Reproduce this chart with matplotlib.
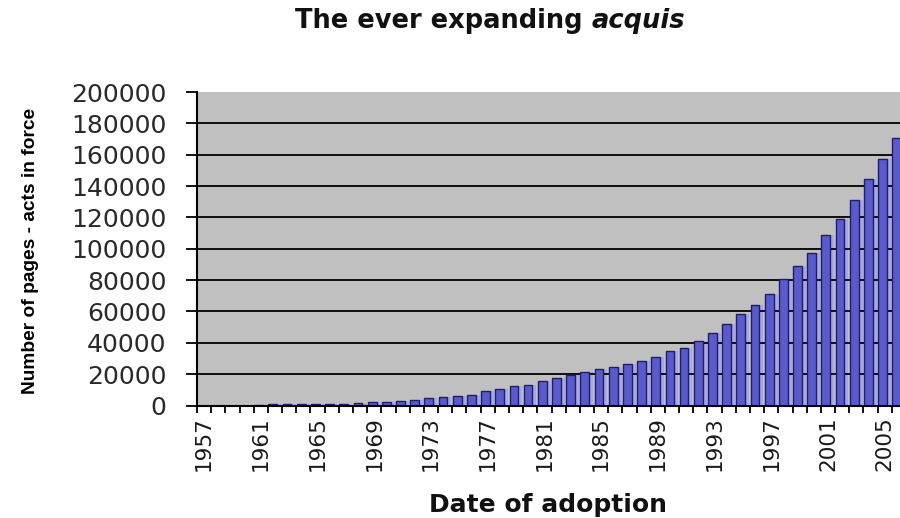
import numpy as np
import matplotlib
matplotlib.use("Agg")
from matplotlib import pyplot as plt

# pages of acts in force, by year of adoption
years = list(range(1957, 2007))
pages = [0, 0, 0, 0, 200, 700, 800, 900, 1000, 1100,
         1200, 1800, 2000, 2400, 2600, 3700, 4700, 5200, 6100, 7000,
         9500, 10500, 12200, 13200, 15800, 17400, 19300, 21500, 23400, 24700,
         26600, 28500, 30900, 34700, 37000, 41100, 46400, 51700, 58100, 64300,
         71300, 80400, 89000, 97400, 108500, 119100, 131300, 144300, 157000, 170600]
yticks = list(range(0, 200001, 20000))

W, H = 900, 518
fig = plt.figure(figsize=(W / 100, H / 100), dpi=100)
# the original picture is cut off on the right, so the axes run past the edge
step = 14.18
ax = fig.add_axes([197 / W, (H - 405.5) / H, len(years) * step / W, 313.5 / H])
ax.set_facecolor('#c0c0c0')

x = np.arange(len(years))
# light "shadow" strip on the right of each bar, then the bar itself
ax.bar(x - 0.5 + 0.66, pages, width=0.28, align='edge', color='#a6a6ec',
       linewidth=0, zorder=1)
ax.bar(x - 0.5 + 0.04, pages, width=0.62, align='edge', color='#5a5acc',
       edgecolor='#1e1e62', linewidth=1, zorder=2)

ax.set_xlim(-0.5, len(years) - 0.5)
ax.set_ylim(0, 200000)
ax.set_yticks(yticks)
ax.set_yticklabels([str(v) for v in yticks])
ax.set_xticks(x[::4])
ax.set_xticklabels([str(y) for y in years[::4]], rotation=90)
ax.set_xticks(np.arange(len(years) + 1) - 0.5, minor=True)

ax.tick_params(axis='x', which='major', length=0, pad=8, labelsize=15.5,
               labelcolor='#1a1a1a')
ax.tick_params(axis='x', which='minor', length=5, width=1.3, color='black')
ax.tick_params(axis='y', length=8, width=1.3, pad=14, labelsize=18,
               labelcolor='#2a2a2a')

ax.set_axisbelow('line')
ax.yaxis.grid(True, color='black', linewidth=1.3)
ax.get_ygridlines()[-1].set_visible(False)
for s in ['top', 'right']:
    ax.spines[s].set_visible(False)
for s in ['left', 'bottom']:
    ax.spines[s].set_linewidth(1.5)
    ax.spines[s].set_color('black')

fig.text(31 / W, 1 - 251 / H, 'Number of pages - acts in force', rotation=90,
         ha='center', va='center', fontsize=13.8, fontweight='bold',
         family=['Liberation Sans Narrow', 'Liberation Sans'])
fig.text(548 / W, 1 - 505 / H, 'Date of adoption', ha='center', va='center',
         fontsize=18, fontweight='bold', color='#111111')

# title: plain bold part + italic bold "acquis"
t1 = fig.text(0, 1 - 21 / H, 'The ever expanding', fontsize=18.5,
              fontweight='bold', va='center', ha='left', color='#111111')
t2 = fig.text(0, 1 - 21 / H, 'acquis', fontsize=18.5, fontweight='bold',
              style='italic', va='center', ha='left', color='#111111')
r = fig.canvas.get_renderer()
w1 = t1.get_window_extent(r).width
w2 = t2.get_window_extent(r).width
gap = 9
x0 = 490 - (w1 + gap + w2) / 2
t1.set_x(x0 / W)
t2.set_x((x0 + w1 + gap) / W)

fig.savefig('out.png', dpi=100)
